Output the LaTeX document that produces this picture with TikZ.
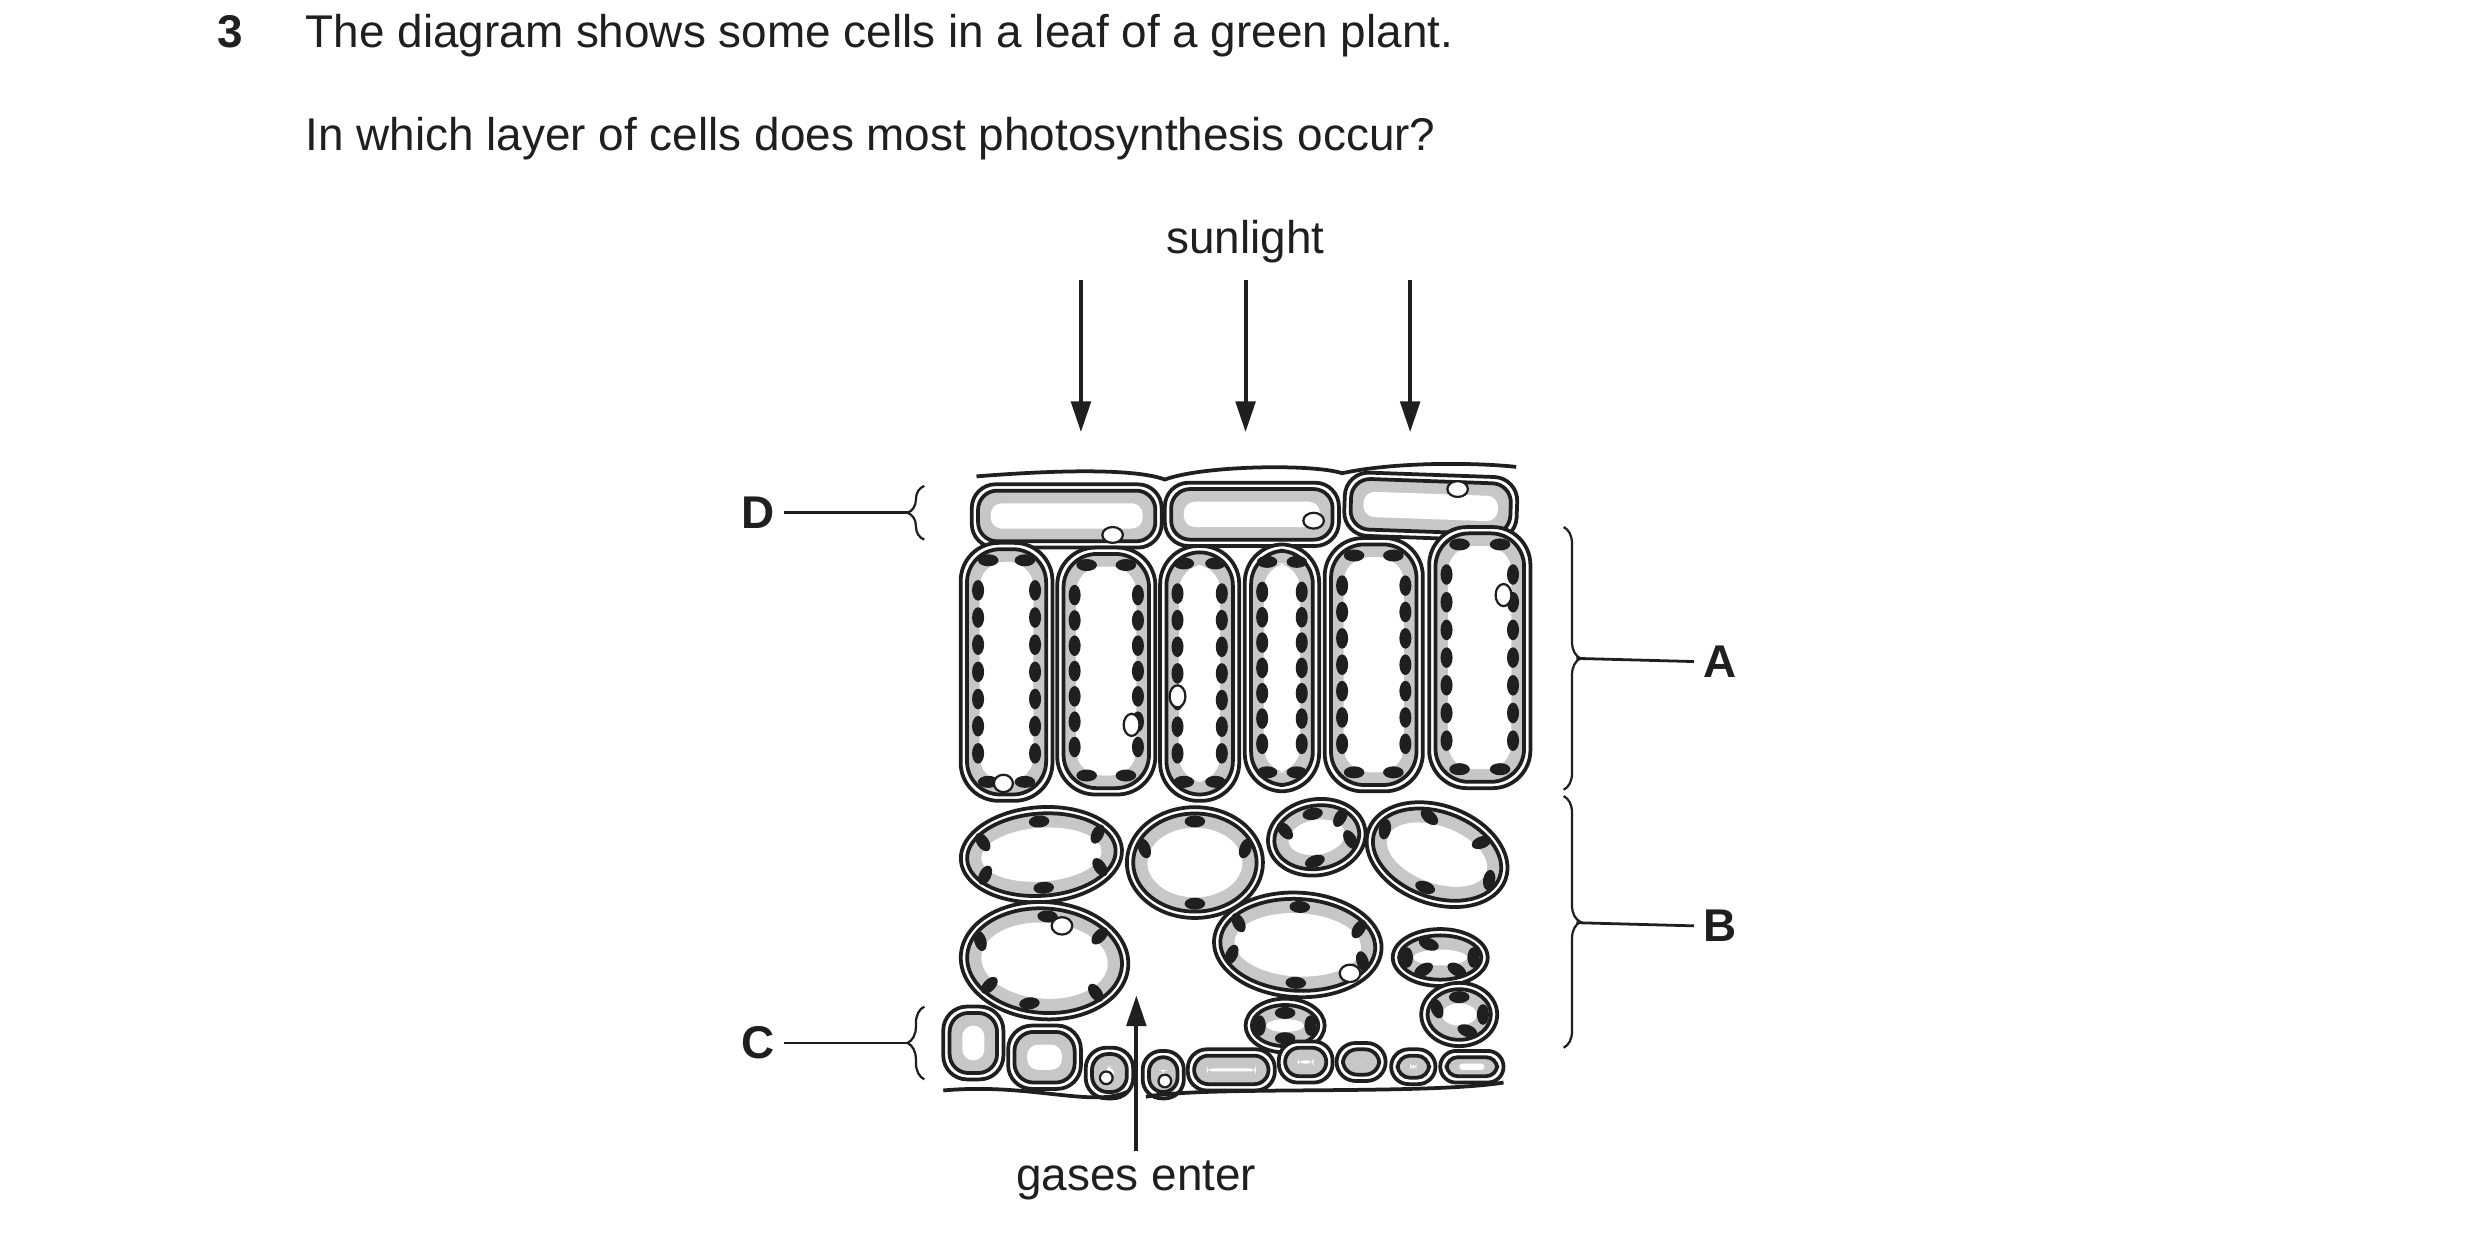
\documentclass[tikz,border=0pt]{standalone}
\usepackage{fontspec}
\setmainfont{Liberation Sans}
\usetikzlibrary{decorations.pathreplacing,arrows.meta}
\definecolor{cyto}{gray}{0.78}
\definecolor{ink}{gray}{0.12}
\tikzset{
  wall/.style={draw=ink, line width=1.35pt},
  chl/.style={fill=ink},
  vac/.style={draw=ink, fill=white, line width=0.8pt},
  label/.style={font=\fontsize{16.5}{20}\selectfont\bfseries, text=ink},
  txt/.style={font=\fontsize{16.5}{20}\selectfont, text=ink, anchor=base west},
  pointer/.style={draw=ink, line width=1pt},
  sunarrow/.style={draw=ink, line width=1.4pt, -{Triangle[length=11pt,width=7pt]}},
  brace/.style={draw=ink, line width=0.8pt, decorate, decoration={brace, amplitude=6pt}},
}
% x y w h radius rotation
\newcommand\leafcell[6]{%
  \begin{scope}[shift={(#1,#2)},rotate=#6]
    \draw[wall, fill=white, rounded corners=#5*0.02cm] (-#3/2,-#4/2) rectangle (#3/2,#4/2);
    \draw[wall, fill=cyto, rounded corners=(#5-3)*0.02cm] ({-#3/2+4},{-#4/2+4}) rectangle ({#3/2-4},{#4/2-4});
    \fill[white, rounded corners=(#5-8)*0.02cm] ({-#3/2+12},{-#4/2+12}) rectangle ({#3/2-12},{#4/2-12});
  \end{scope}}
% palisade: x top w h
\newcommand\palisade[4]{%
  \leafcell{#1}{#2+#4/2}{#3}{#4}{24}{0}
  \foreach \k in {0,...,6}
    \fill[chl] ({#1-#3/2+11},{#2+30+\k*(#4-60)/6}) ellipse [x radius=3.8, y radius=6.5];
  \foreach \k in {0,...,6}
    \fill[chl] ({#1+#3/2-11},{#2+30+\k*(#4-60)/6}) ellipse [x radius=3.8, y radius=6.5];
  \fill[chl] ({#1-#3/5},{#2+11}) ellipse [x radius=6.5, y radius=3.8];
  \fill[chl] ({#1+#3/5},{#2+11}) ellipse [x radius=6.5, y radius=3.8];
  \fill[chl] ({#1-#3/5},{#2+#4-12}) ellipse [x radius=6.5, y radius=3.8];
  \fill[chl] ({#1+#3/5},{#2+#4-12}) ellipse [x radius=6.5, y radius=3.8];
}
% spongy: x y rx ry rotation {angles}
\newcommand\spongy[6]{%
  \begin{scope}[shift={(#1,#2)},rotate=#5]
    \draw[wall, fill=white] (0,0) ellipse [x radius=#3, y radius=#4];
    \draw[wall, fill=cyto] (0,0) ellipse [x radius=#3-4, y radius=#4-4];
    \fill[white] (0,0) ellipse [x radius=#3-13, y radius=#4-13];
    \foreach \a in {#6}
      \fill[chl, rotate around={\a+90:({(#3-9)*cos(\a)},{(#4-9)*sin(\a)})}]
        ({(#3-9)*cos(\a)},{(#4-9)*sin(\a)}) ellipse [x radius=6.5, y radius=3.8];
  \end{scope}}
\begin{document}
\begin{tikzpicture}[x=0.02cm, y=-0.02cm]
\useasboundingbox (0,0) rectangle (1567,783.5);

% question text
\node[txt, font=\fontsize{16.5}{20}\selectfont\bfseries] (qnum) at (131,30) {3};
\node[txt] (qline1) at (187,30) {The diagram shows some cells in a leaf of a green plant.};
\node[txt] (qline2) at (187,95) {In which layer of cells does most photosynthesis occur?};

% sunlight
\node[txt, anchor=base] (sun) at (787,160) {sunlight};
\coordinate (s1a) at (683,177); \coordinate (s1b) at (683,273);
\coordinate (s2a) at (787,177); \coordinate (s2b) at (787,273);
\coordinate (s3a) at (891,177); \coordinate (s3b) at (891,273);
\draw[sunarrow] (s1a) -- (s1b);
\draw[sunarrow] (s2a) -- (s2b);
\draw[sunarrow] (s3a) -- (s3b);

% upper epidermis
\draw[wall] (617,301) .. controls (680,296) and (720,297) .. (736,303)
  .. controls (760,294) and (830,293) .. (848,299)
  .. controls (880,292) and (930,292) .. (958,295);
\leafcell{674}{326}{120}{40}{15}{0}
\leafcell{791}{325}{110}{40}{15}{0}
\leafcell{904}{320}{109}{40}{15}{-2}
\draw[vac] (703,338) ellipse [x radius=6.5, y radius=5];
\draw[vac] (830,329) ellipse [x radius=6.5, y radius=5];
\draw[vac] (921,309) ellipse [x radius=6.5, y radius=5];

% palisade
\palisade{636}{343}{58}{163}
\palisade{699}{346}{62}{156}
\palisade{758}{345}{50}{161}
\palisade{810}{344}{47}{156}
\palisade{868}{340}{62}{160}
\palisade{935}{333}{64}{165}
\draw[vac] (634,495) ellipse [x radius=6, y radius=5.5];
\draw[vac] (715,458) ellipse [x radius=5, y radius=7];
\draw[vac] (744,440) ellipse [x radius=5, y radius=7];
\draw[vac] (950,376) ellipse [x radius=5, y radius=7];

% spongy mesophyll
\spongy{658}{540}{51}{30}{4}{90,30,-30,150,210,270}
\spongy{755}{545}{43}{35}{0}{90,-20,200,270}
\spongy{832}{529}{31}{24}{10}{100,20,-40,210,270}
\spongy{908}{540}{46}{31}{-20}{90,10,-50,190,250}
\spongy{660}{607}{53}{37}{-4}{100,40,-40,140,200,270}
\spongy{820}{597}{53}{33}{-3}{90,20,-30,160,210,270}
\spongy{910}{605}{30}{18}{0}{0,60,120,180,250}
\spongy{922}{641}{24}{20}{0}{70,0,200,270}
\spongy{812}{648}{25}{17}{0}{90,0,180,270}
\draw[vac] (671,585) ellipse [x radius=6.5, y radius=5.5];
\draw[vac] (853,615) ellipse [x radius=6.5, y radius=5.5];

% lower epidermis
\leafcell{615}{659}{38}{46}{15}{0}
\leafcell{660}{668}{46}{40}{15}{0}
\leafcell{701}{678}{30}{32}{13}{0}
\leafcell{735}{679}{26}{30}{12}{0}
\leafcell{778}{676}{55}{26}{12}{0}
\leafcell{825}{671}{34}{26}{12}{0}
\leafcell{860}{671}{31}{24}{12}{0}
\leafcell{893}{674}{28}{22}{11}{0}
\leafcell{930}{674}{40}{20}{10}{0}
\draw[vac] (699,681) circle [radius=4];
\draw[vac] (736,683) circle [radius=4];
\draw[wall] (596,689) .. controls (650,684) and (690,700) .. (712,690);
\draw[wall] (724,693) .. controls (760,686) and (900,692) .. (950,684);

% gases
\coordinate (gasfoot) at (718,727);
\coordinate (gastip) at (718,629);
\draw[sunarrow] (gasfoot) -- (gastip);
\node[txt, anchor=base] (gas) at (718,752) {gases enter};

% labels and braces
\node[label] (D) at (479,324) {D};
\node[label] (C) at (479,659) {C};
\node[label] (A) at (1087,418) {A};
\node[label] (B) at (1087,585) {B};
\coordinate (Dbr) at (575,324);
\coordinate (Cbr) at (575,659);
\coordinate (Abr) at (996,416);
\coordinate (Bbr) at (996,583);
\draw[brace] (584,341) -- (584,307);
\draw[brace] (584,682) -- (584,636);
\draw[brace] (988,333) -- (988,499);
\draw[brace] (988,503) -- (988,662);
\draw[pointer] (D.east) -- (Dbr);
\draw[pointer] (C.east) -- (Cbr);
\draw[pointer] (A.west) -- (Abr);
\draw[pointer] (B.west) -- (Bbr);
\end{tikzpicture}
\end{document}
